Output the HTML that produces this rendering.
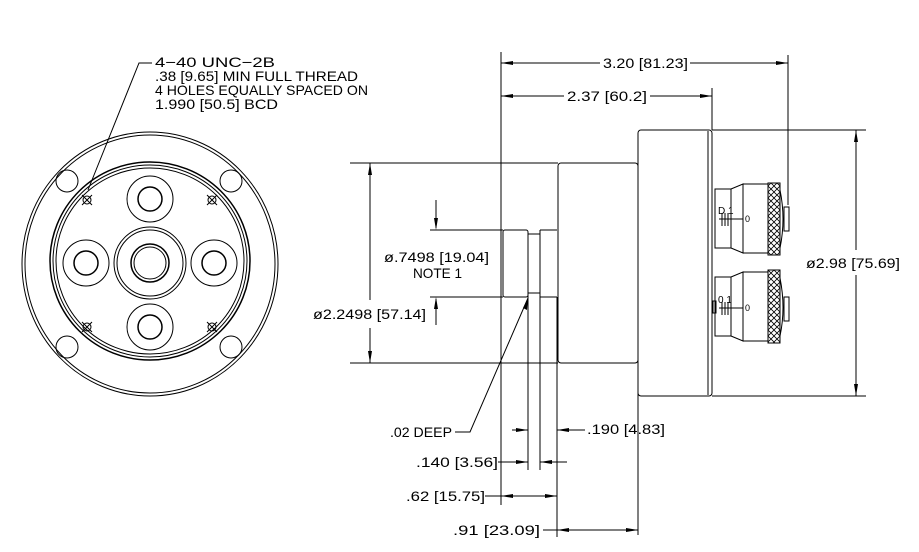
<!DOCTYPE html>
<html><head><style>
html,body{margin:0;padding:0;background:#fff;width:919px;height:552px;overflow:hidden}
svg text{font-family:"Liberation Sans",sans-serif;font-size:14px;fill:#000}
</style></head><body>
<svg width="919" height="552" viewBox="0 0 919 552" xmlns="http://www.w3.org/2000/svg">
<defs>
<pattern id="kn" width="6" height="6" patternUnits="userSpaceOnUse">
<path d="M0 0L6 6M6 0L0 6" stroke="#000" stroke-width="0.8"/>
</pattern>
</defs>
<g fill="none" stroke="#000" stroke-width="1">
<ellipse cx="150" cy="264" rx="128" ry="132"/>
<ellipse cx="150" cy="264" rx="125" ry="129"/>
<ellipse cx="150" cy="261" rx="100" ry="99" stroke-width="1.5"/>
<ellipse cx="150" cy="261" rx="97" ry="96"/>
<ellipse cx="150" cy="261" rx="94" ry="93"/>
<circle cx="67" cy="181" r="11"/><circle cx="231" cy="181" r="11"/>
<circle cx="67" cy="347" r="11"/><circle cx="231" cy="347" r="11"/>
<circle cx="150" cy="199" r="23"/><circle cx="150" cy="199" r="12" stroke-width="1.5"/>
<circle cx="150" cy="327" r="23"/><circle cx="150" cy="327" r="12" stroke-width="1.5"/>
<circle cx="86" cy="263" r="23"/><circle cx="86" cy="263" r="12" stroke-width="1.5"/>
<circle cx="214" cy="263" r="23"/><circle cx="214" cy="263" r="12" stroke-width="1.5"/>
<circle cx="150" cy="263" r="36"/><circle cx="150" cy="263" r="33"/>
<circle cx="150" cy="263" r="19" stroke-width="1.5"/><circle cx="150" cy="263" r="16"/>
<g>
<circle cx="87" cy="200" r="4"/><path d="M82 195l10 10M92 195l-10 10"/>
<circle cx="212" cy="200" r="4"/><path d="M207 195l10 10M217 195l-10 10"/>
<circle cx="87" cy="327" r="4"/><path d="M82 322l10 10M92 322l-10 10"/>
<circle cx="212" cy="327" r="4"/><path d="M207 322l10 10M217 322l-10 10"/>
</g>
<path d="M88 190L139 63H152"/>

<rect x="503" y="230" width="25" height="67" rx="2"/>
<rect x="528" y="234" width="12" height="59"/>
<path d="M540 230H557M540 297H557M540 230V297"/>
<rect x="558" y="163" width="80" height="200" rx="3"/>
<rect x="638" y="130" width="74" height="266" rx="3"/>
<line x1="708" y1="131" x2="708" y2="395"/>
<g>
<rect x="715" y="189" width="16" height="59"/>
<path d="M731 189L743 184V253L731 248"/>
<rect x="743" y="184" width="25" height="69"/>
<rect x="768" y="183" width="12" height="72" fill="url(#kn)"/>
<path d="M780 190Q786 219 780 248"/>
<rect x="784" y="207" width="5" height="24"/>
<path d="M719 219H743M722 213V226M725 213V226M728 213V226M731 215V224"/>
<text x="718" y="214" style="font-size:10px;stroke:none;fill:#000">D 1</text>
<text x="745" y="222" style="font-size:9px;stroke:none;fill:#000">0</text>
</g>
<g>
<rect x="715" y="277" width="16" height="59"/>
<path d="M731 277L743 272V341L731 336"/>
<rect x="743" y="272" width="25" height="69"/>
<rect x="768" y="270" width="12" height="73" fill="url(#kn)"/>
<path d="M780 278Q786 308 780 336"/>
<rect x="784" y="297" width="5" height="24"/>
<path d="M719 308H743M722 302V315M725 302V315M728 302V315M731 304V313"/>
<rect x="713" y="301" width="3" height="12"/>
<text x="718" y="303" style="font-size:10px;stroke:none;fill:#000">0 1</text>
<text x="745" y="311" style="font-size:9px;stroke:none;fill:#000">0</text>
</g>

<path d="M501 52V505M528 290V470M540 290V470M557 297V537M638 363V535M712 88V130M788 55V205"/>
<path d="M350 163H558M350 363H558M430 230H503M430 297H503M712 130H866M712 396H866"/>
<path d="M501 63H600M690 63H788M501 96H564M650 96H712"/>
<path d="M370 163V300M370 328V363M436 200V228M436 299V325"/>
<path d="M856 130V250M856 275V396"/>
<path d="M455 432H470L528 298"/>
<path d="M512 430H528M557 430H585M498 462H528M540 462H567M485 496H557M543 530H638"/>
</g>
<g fill="#000">
<path d="M501 63l12-2v4zM788 63l-12-2v4zM501 96l12-2v4zM712 96l-12-2v4z"/>
<path d="M370 163l-2 12h4zM370 363l-2-12h4zM436 230l-2-12h4zM436 297l-2 12h4z"/>
<path d="M856 130l-2 12h4zM856 396l-2-12h4z"/>
<path d="M528 298l-1 12 -4-2z"/>
<path d="M528 430l-12-2v4zM557 430l12-2v4zM528 462l-12-2v4zM540 462l12-2v4z"/>
<path d="M501 496l12-2v4zM557 496l-12-2v4zM557 530l12-2v4zM638 530l-12-2v4z"/>
</g>
<g lengthAdjust="spacingAndGlyphs">
<text x="155" y="67" textLength="120" lengthAdjust="spacingAndGlyphs">4−40 UNC−2B</text>
<text x="155" y="81" textLength="203" lengthAdjust="spacingAndGlyphs">.38 [9.65] MIN FULL THREAD</text>
<text x="155" y="95" textLength="213" lengthAdjust="spacingAndGlyphs">4 HOLES EQUALLY SPACED ON</text>
<text x="155" y="109" textLength="123" lengthAdjust="spacingAndGlyphs">1.990 [50.5] BCD</text>
<text x="603" y="68" textLength="85" lengthAdjust="spacingAndGlyphs">3.20 [81.23]</text>
<text x="567" y="101" textLength="80" lengthAdjust="spacingAndGlyphs">2.37 [60.2]</text>
<text x="384" y="262" textLength="105" lengthAdjust="spacingAndGlyphs">ø.7498 [19.04]</text>
<text x="413" y="278" textLength="49" lengthAdjust="spacingAndGlyphs">NOTE 1</text>
<text x="313" y="319" textLength="113" lengthAdjust="spacingAndGlyphs">ø2.2498 [57.14]</text>
<text x="806" y="268" textLength="94" lengthAdjust="spacingAndGlyphs">ø2.98 [75.69]</text>
<text x="390" y="437" textLength="62" lengthAdjust="spacingAndGlyphs">.02 DEEP</text>
<text x="587" y="434" textLength="78" lengthAdjust="spacingAndGlyphs">.190 [4.83]</text>
<text x="416" y="467" textLength="82" lengthAdjust="spacingAndGlyphs">.140 [3.56]</text>
<text x="406" y="501" textLength="79" lengthAdjust="spacingAndGlyphs">.62 [15.75]</text>
<text x="453" y="535" textLength="87" lengthAdjust="spacingAndGlyphs">.91 [23.09]</text>
</g>
</svg>
</body></html>
